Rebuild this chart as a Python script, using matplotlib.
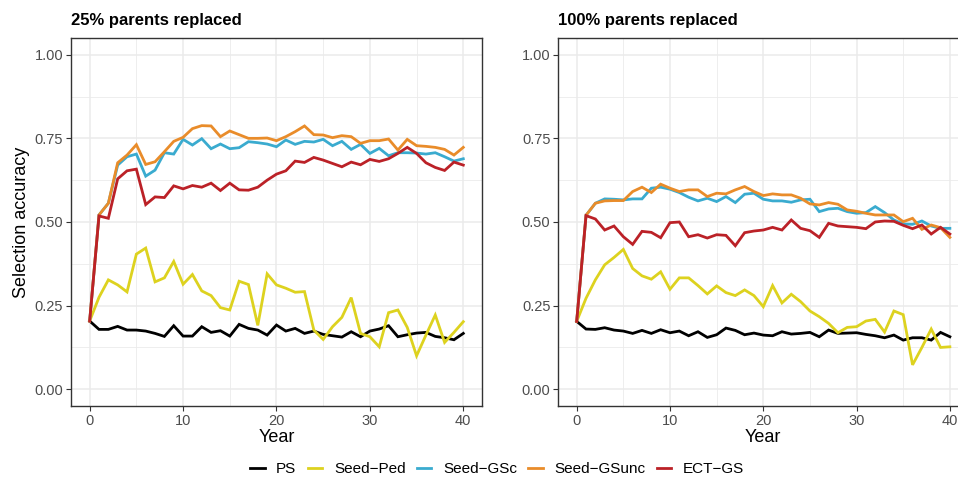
import matplotlib
matplotlib.use("Agg")
import matplotlib.pyplot as plt
from matplotlib.ticker import MultipleLocator

plt.rcParams['font.family'] = ['Liberation Sans', 'DejaVu Sans']

years = list(range(41))

# 25% parents replaced
ps_25 = [0.204, 0.179, 0.179, 0.188, 0.177, 0.177, 0.174, 0.167, 0.158, 0.190,
         0.159, 0.159, 0.187, 0.170, 0.175, 0.159, 0.194, 0.182, 0.177, 0.162,
         0.192, 0.174, 0.182, 0.167, 0.174, 0.164, 0.160, 0.156, 0.172, 0.157,
         0.174, 0.180, 0.190, 0.157, 0.163, 0.168, 0.170, 0.158, 0.154, 0.148,
         0.167]
ped_25 = [0.204, 0.275, 0.327, 0.312, 0.291, 0.404, 0.422, 0.321, 0.333, 0.382,
          0.314, 0.343, 0.294, 0.280, 0.244, 0.237, 0.323, 0.313, 0.191, 0.345,
          0.312, 0.302, 0.290, 0.292, 0.177, 0.149, 0.187, 0.215, 0.274, 0.167,
          0.157, 0.127, 0.229, 0.237, 0.185, 0.100, 0.162, 0.222, 0.140, 0.170,
          0.202]
gsc_25 = [0.204, 0.521, 0.556, 0.670, 0.695, 0.703, 0.637, 0.655, 0.707, 0.703,
          0.747, 0.730, 0.749, 0.719, 0.733, 0.719, 0.722, 0.740, 0.737, 0.733,
          0.725, 0.745, 0.732, 0.741, 0.739, 0.747, 0.728, 0.741, 0.717, 0.732,
          0.705, 0.720, 0.698, 0.707, 0.707, 0.706, 0.703, 0.707, 0.695, 0.682,
          0.689]
gsunc_25 = [0.204, 0.521, 0.556, 0.677, 0.700, 0.731, 0.672, 0.680, 0.710, 0.741,
            0.753, 0.779, 0.788, 0.787, 0.755, 0.772, 0.761, 0.750, 0.750, 0.751,
            0.743, 0.755, 0.770, 0.787, 0.761, 0.760, 0.752, 0.758, 0.755, 0.735,
            0.743, 0.743, 0.748, 0.715, 0.747, 0.728, 0.726, 0.723, 0.717, 0.700,
            0.723]
ect_25 = [0.204, 0.518, 0.511, 0.629, 0.653, 0.658, 0.552, 0.575, 0.573, 0.608,
          0.599, 0.609, 0.604, 0.616, 0.594, 0.616, 0.596, 0.595, 0.604, 0.625,
          0.643, 0.653, 0.682, 0.678, 0.693, 0.685, 0.675, 0.665, 0.679, 0.671,
          0.687, 0.681, 0.689, 0.705, 0.723, 0.705, 0.677, 0.663, 0.654, 0.679,
          0.670]

# 100% parents replaced
ps_100 = [0.203, 0.180, 0.179, 0.184, 0.177, 0.174, 0.167, 0.176, 0.167, 0.178,
          0.169, 0.174, 0.160, 0.172, 0.155, 0.163, 0.183, 0.176, 0.163, 0.168,
          0.162, 0.160, 0.172, 0.165, 0.167, 0.170, 0.157, 0.177, 0.167, 0.168,
          0.169, 0.164, 0.160, 0.154, 0.162, 0.147, 0.154, 0.154, 0.147, 0.170,
          0.157]
ped_100 = [0.203, 0.272, 0.327, 0.372, 0.394, 0.418, 0.361, 0.339, 0.329, 0.351,
           0.299, 0.333, 0.333, 0.310, 0.285, 0.309, 0.289, 0.280, 0.297, 0.280,
           0.247, 0.310, 0.258, 0.284, 0.262, 0.234, 0.217, 0.197, 0.169, 0.185,
           0.187, 0.204, 0.209, 0.171, 0.234, 0.223, 0.073, 0.125, 0.180, 0.125,
           0.127]
gsc_100 = [0.203, 0.520, 0.556, 0.569, 0.568, 0.566, 0.569, 0.569, 0.601, 0.604,
           0.598, 0.588, 0.574, 0.563, 0.571, 0.561, 0.576, 0.558, 0.583, 0.586,
           0.568, 0.563, 0.563, 0.559, 0.566, 0.568, 0.531, 0.539, 0.541, 0.531,
           0.526, 0.528, 0.546, 0.528, 0.506, 0.494, 0.493, 0.503, 0.488, 0.481,
           0.481]
gsunc_100 = [0.203, 0.520, 0.556, 0.563, 0.564, 0.564, 0.591, 0.604, 0.588, 0.613,
             0.601, 0.591, 0.596, 0.596, 0.576, 0.586, 0.584, 0.596, 0.606, 0.591,
             0.579, 0.584, 0.581, 0.581, 0.571, 0.554, 0.551, 0.558, 0.553, 0.536,
             0.532, 0.526, 0.521, 0.521, 0.521, 0.501, 0.511, 0.478, 0.491, 0.483,
             0.454]
ect_100 = [0.203, 0.519, 0.509, 0.476, 0.488, 0.456, 0.433, 0.472, 0.469, 0.453,
           0.498, 0.500, 0.456, 0.462, 0.452, 0.462, 0.460, 0.429, 0.468, 0.473,
           0.476, 0.484, 0.476, 0.506, 0.481, 0.474, 0.454, 0.496, 0.488, 0.486,
           0.484, 0.480, 0.500, 0.503, 0.502, 0.490, 0.480, 0.491, 0.464, 0.484,
           0.464]

labels = ["PS", "Seed\u2212Ped", "Seed\u2212GSc", "Seed\u2212GSunc", "ECT\u2212GS"]
colors = ["#000000", "#DDD21F", "#3AABCF", "#E98C2A", "#BB2127"]
yticks = [0.00, 0.25, 0.50, 0.75, 1.00]
xticks = [0, 10, 20, 30, 40]

fig = plt.figure(figsize=(9.58, 4.83), dpi=100)
ax1 = fig.add_axes([0.0741, 0.1594, 0.429, 0.762])
ax2 = fig.add_axes([0.5825, 0.1594, 0.4285, 0.762])

panels = [(ax1, "25% parents replaced", [ps_25, ped_25, gsc_25, gsunc_25, ect_25]),
          (ax2, "100% parents replaced", [ps_100, ped_100, gsc_100, gsunc_100, ect_100])]

for ax, title, series in panels:
    for vals, lab, col in zip(series, labels, colors):
        ax.plot(years, vals, color=col, linewidth=2.0, label=lab,
                solid_joinstyle="miter", zorder=3)
    ax.set_xlim(-2, 42)
    ax.set_ylim(-0.05, 1.05)
    ax.set_xticks(xticks)
    ax.set_yticks(yticks)
    ax.set_yticklabels(["%.2f" % v for v in yticks])
    ax.xaxis.set_minor_locator(MultipleLocator(5))
    ax.yaxis.set_minor_locator(MultipleLocator(0.125))
    ax.grid(True, which="major", color="#EBEBEB", linewidth=1.1, zorder=0)
    ax.grid(True, which="minor", color="#EBEBEB", linewidth=0.6, zorder=0)
    ax.set_axisbelow(True)
    ax.tick_params(which="minor", length=0)
    ax.tick_params(which="major", length=3.5, width=0.8, color="#333333",
                   labelsize=10.5, labelcolor="#4D4D4D", pad=2)
    for sp in ax.spines.values():
        sp.set_color("#333333")
        sp.set_linewidth(1.0)
    ax.set_xlabel("Year", fontsize=13, labelpad=1)
    ax.set_title(title, loc="left", fontsize=12, fontweight="bold", pad=9)

ax1.set_ylabel("Selection accuracy", fontsize=13, labelpad=3)

handles, labs = ax1.get_legend_handles_labels()
fig.legend(handles, labs, loc="center", bbox_to_anchor=(0.519, 0.028), ncol=5,
           frameon=False, fontsize=11, handlelength=0.95, handletextpad=0.75,
           columnspacing=0.75)

fig.savefig("out.png", dpi=100)
